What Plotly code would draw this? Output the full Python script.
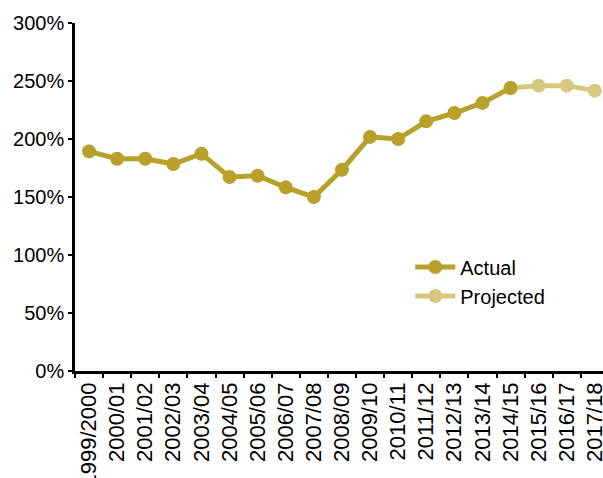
import plotly.graph_objects as go

categories = ["1999/2000", "2000/01", "2001/02", "2002/03", "2003/04", "2004/05",
              "2005/06", "2006/07", "2007/08", "2008/09", "2009/10", "2010/11",
              "2011/12", "2012/13", "2013/14", "2014/15", "2015/16", "2016/17", "2017/18"]
actual = [189.3, 183.0, 183.0, 178.4, 187.3, 167.2, 168.3, 158.3, 149.9, 173.5,
          201.8, 200.0, 215.2, 222.4, 231.1, 244.0]
projected_cats = ["2014/15", "2015/16", "2016/17", "2017/18"]
projected = [244.0, 246.0, 246.0, 241.7]
y_ticks = [0, 50, 100, 150, 200, 250, 300]
y_ticklabels = [f"{v}%" for v in y_ticks]

ACT = "#B8A02A"
PROJ = "#D7C87F"

fig = go.Figure()
fig.add_trace(go.Scatter(x=projected_cats, y=projected, mode="lines+markers", name="Projected",
                         line=dict(color=PROJ, width=5), marker=dict(color=PROJ, size=14),
                         legendrank=2))
fig.add_trace(go.Scatter(x=categories[:len(actual)], y=actual, mode="lines+markers", name="Actual",
                         line=dict(color=ACT, width=5), marker=dict(color=ACT, size=14),
                         legendrank=1))

fig.update_layout(
    template="none",
    width=603, height=478,
    margin=dict(l=75, r=0, t=23, b=107),
    paper_bgcolor="white", plot_bgcolor="white",
    font=dict(family="Liberation Sans, Arial", size=20, color="black"),
    showlegend=True,
    legend=dict(x=0.635, y=0.355, xanchor="left", yanchor="top",
                font=dict(family="Liberation Sans Narrow, Arial Narrow, Liberation Sans", size=20),
                bgcolor="rgba(0,0,0,0)", tracegroupgap=0, itemwidth=40),
)
fig.update_xaxes(type="category", categoryorder="array", categoryarray=categories,
                 range=[-0.5, 18.29], tickangle=-90, showline=True, linecolor="black", linewidth=2.5,
                 ticks="outside", tickson="boundaries", ticklen=4, tickwidth=2, tickcolor="black",
                 showgrid=False, zeroline=False, tickfont=dict(size=22), automargin=False)
fig.update_yaxes(range=[0, 300], tickvals=y_ticks, ticktext=y_ticklabels, showline=True,
                 linecolor="black", linewidth=2.5, ticks="outside", ticklen=4, tickwidth=2,
                 tickcolor="black", showgrid=False, zeroline=False, tickfont=dict(size=20),
                 automargin=False)

fig.write_html("out.html")
